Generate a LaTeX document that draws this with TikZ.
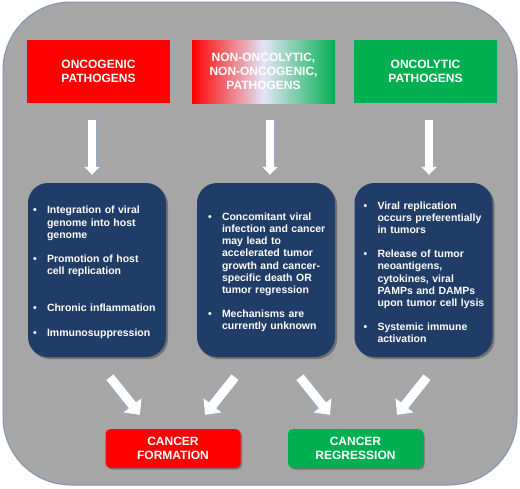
\documentclass[tikz,border=0pt]{standalone}
\usepackage{fontspec}
\setmainfont{Liberation Sans}
\usepackage{enumitem}
\usetikzlibrary{arrows.meta,shadows,calc}
\definecolor{panelgray}{RGB}{166,166,166}
\definecolor{paneledge}{RGB}{125,148,178}
\definecolor{boxblue}{RGB}{31,61,102}
\definecolor{oncored}{RGB}{255,0,0}
\definecolor{lyticgreen}{RGB}{0,176,80}
\definecolor{mistwhite}{RGB}{226,228,246}
\definecolor{arrowedge}{RGB}{150,174,204}
\setlist[itemize]{nosep,itemsep=12pt,labelsep=10pt,labelwidth=4pt,align=left,label=\textbullet}
\tikzset{
    headbox/.style={minimum width=143pt, minimum height=63pt, inner sep=0pt, text=white, align=center,
        font=\fontsize{12}{14}\selectfont\bfseries},
    infobox/.style={fill=boxblue, rounded corners=20pt, minimum width=138pt, minimum height=174pt,
        text width=130pt, inner xsep=4pt, text=white, align=left,
        font=\fontsize{10.5}{12.2}\selectfont\bfseries,
        drop shadow={shadow xshift=2pt, shadow yshift=-2pt, opacity=0.3, fill=black}},
    outbox/.style={rounded corners=5pt, minimum width=135pt, minimum height=39pt, inner sep=0pt,
        text=white, align=center, font=\fontsize{12}{14}\selectfont\bfseries,
        drop shadow={shadow xshift=1.5pt, shadow yshift=-1.5pt, opacity=0.3, fill=black}},
    downarrow/.style={draw=white, line width=7.5pt, -{Triangle[width=15pt,length=8pt]},
        preaction={draw=arrowedge, line width=9pt, -{Triangle[width=17.5pt,length=9.5pt]}}},
    fatarrow/.style={draw=white, line width=9pt, -{Triangle[width=22pt,length=12pt]},
        preaction={draw=arrowedge, line width=10.5pt, -{Triangle[width=24.5pt,length=13.5pt]}}}
}
\begin{document}
\begin{tikzpicture}[x=1pt,y=-1pt]
    \useasboundingbox (0,0) rectangle (520,488);
    \draw[draw=paneledge, fill=panelgray, line width=1pt, rounded corners=68pt] (3,2) rectangle (517,485);

    \node[headbox, fill=oncored] (oncohead) at (98.5,71.5) {ONCOGENIC\\PATHOGENS};
    \node[headbox, left color=oncored, right color=lyticgreen, middle color=mistwhite] (midhead) at (263.5,71.5)
        {NON-ONCOLYTIC,\\NON-ONCOGENIC,\\PATHOGENS};
    \node[headbox, fill=lyticgreen] (lytichead) at (425.5,71.5) {ONCOLYTIC\\PATHOGENS};

    \node[infobox] (oncoinfo) at (97,270)
    {
        \begin{itemize}[leftmargin=15pt]
            \item Integration of viral\\genome into host\\genome
            \item Promotion of host\\cell replication\vspace{13pt}
            \item Chronic inflammation
            \item Immunosuppression
        \end{itemize}
    };
    \node[infobox] (midinfo) at (266,270)
    {
        \begin{itemize}[leftmargin=21pt]
            \item Concomitant viral\\infection and cancer\\may lead to\\accelerated tumor\\growth and cancer-\\specific death OR\\tumor regression
            \item Mechanisms are\\currently unknown
        \end{itemize}
    };
    \node[infobox] (lyticinfo) at (423.5,270)
    {
        \begin{itemize}[leftmargin=19pt]
            \item Viral replication\\occurs preferentially\\in tumors
            \item Release of tumor\\neoantigens,\\cytokines, viral\\PAMPs and DAMPs\\upon tumor cell lysis
            \item Systemic immune\\activation
        \end{itemize}
    };

    \node[outbox, fill=oncored] (formation) at (173,448.5) {CANCER\\FORMATION};
    \node[outbox, fill=lyticgreen] (regression) at (355.5,448.5) {CANCER\\REGRESSION};

    \draw[downarrow] ($(oncohead.south)+(-6.5,17)$) -- ($(oncohead.south |- oncoinfo.north)+(-6.5,-8)$);
    \draw[downarrow] ($(midhead.south)+(6.5,17)$) -- ($(midhead.south |- midinfo.north)+(6.5,-8)$);
    \draw[downarrow] ($(lytichead.south)+(3.5,17)$) -- ($(lytichead.south |- lyticinfo.north)+(3.5,-8)$);

    \draw[fatarrow] ($(oncoinfo.south)+(13,20)$) -- ($(formation.north)+(-33,-14)$);
    \draw[fatarrow] ($(midinfo.south)+(-31,20)$) -- ($(formation.north)+(32,-14)$);
    \draw[fatarrow] ($(midinfo.south)+(34,20)$) -- ($(regression.north)+(-25.5,-14)$);
    \draw[fatarrow] ($(lyticinfo.south)+(3.5,20)$) -- ($(regression.north)+(41.5,-14)$);
\end{tikzpicture}
\end{document}
